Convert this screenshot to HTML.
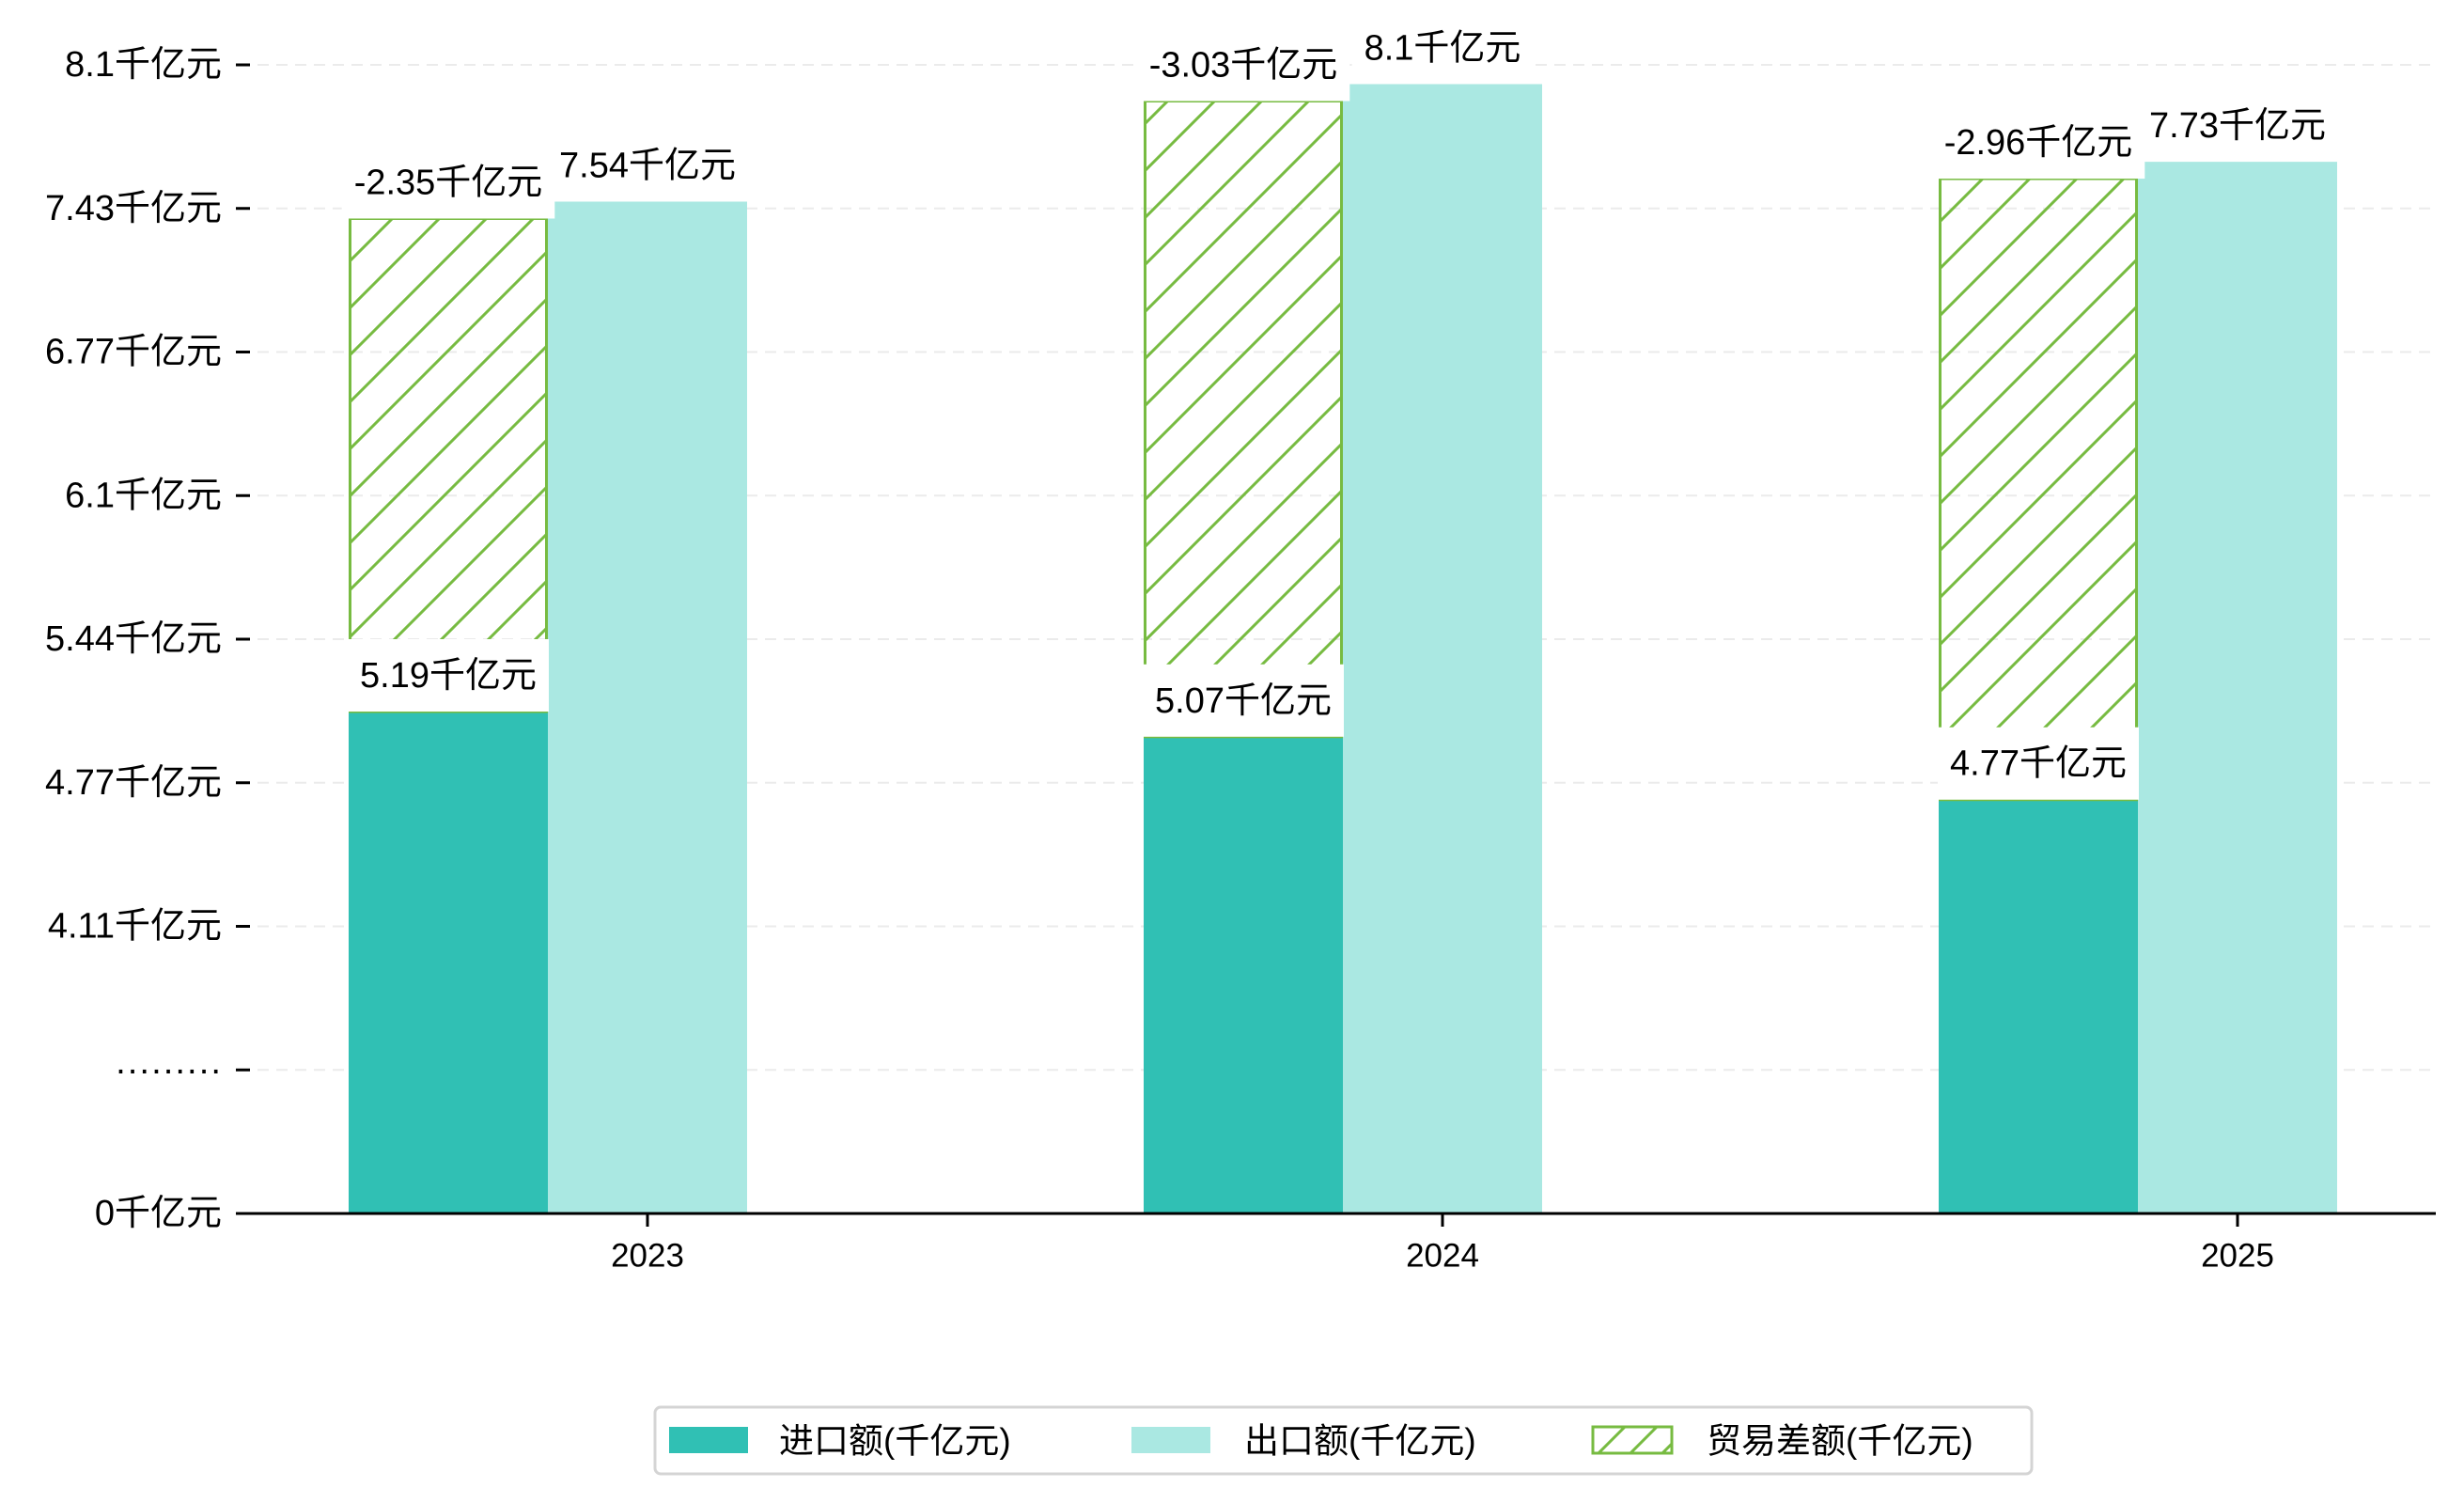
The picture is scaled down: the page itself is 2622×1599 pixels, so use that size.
<!DOCTYPE html>
<html><head><meta charset="utf-8"><style>
html,body{margin:0;padding:0;background:#fff;}
svg{display:block;}
text{font-family:"Liberation Sans","WenQuanYi Zen Hei","Noto Sans CJK SC",sans-serif;fill:#000;}
</style></head><body>
<svg id="chart" width="2622" height="1599" viewBox="0 0 2622 1599" xmlns="http://www.w3.org/2000/svg">
<defs>
<pattern id="hatch" patternUnits="userSpaceOnUse" width="50" height="50">
<path d="M0,50 L50,0 M-12.5,12.5 L12.5,-12.5 M37.5,62.5 L62.5,37.5" stroke="#77bb41" stroke-width="3"/>
</pattern>
<pattern id="hatchLegend" patternUnits="userSpaceOnUse" width="34" height="34" x="1695" y="1518">
<path d="M0,34 L34,0 M-8,8 L8,-8 M26,42 L42,26" stroke="#77bb41" stroke-width="3"/>
</pattern>
</defs>
<g id="grid"></g>
<g id="bars"></g>
<g id="labels"></g>
<g id="axes"></g>
<g id="legend"></g>
</svg>
<script>
const years = ["2023","2024","2025"];
const imports = [5.19, 5.07, 4.77];
const exports = [7.54, 8.1, 7.73];
const diffs = [-2.35, -3.03, -2.96];
const yTickLabels = ["0千亿元","·········","4.11千亿元","4.77千亿元","5.44千亿元","6.1千亿元","6.77千亿元","7.43千亿元","8.1千亿元"];

const NS = "http://www.w3.org/2000/svg";
const baseY = 1291, plotL = 254, plotR = 2592;
const barW = 212;
function xCenter(i){ return 689 + i*846; }
function yVal(v){ return 757 - (v - 5.19)*223.2; }
function yTick(i){ return baseY - i*152.75; }
function mk(tag, attrs, parent){ const e=document.createElementNS(NS,tag); for(const k in attrs) e.setAttribute(k,attrs[k]); parent.appendChild(e); return e; }

const grid=document.getElementById('grid'), bars=document.getElementById('bars'), labels=document.getElementById('labels'), axes=document.getElementById('axes'), legend=document.getElementById('legend');

yTickLabels.forEach((lab,i)=>{
  const y=yTick(i);
  if(i>0){
    const g=mk('line',{x1:plotL,x2:plotR,y1:y,y2:y,stroke:'#ebebeb','stroke-width':2,'stroke-dasharray':'12,8'},grid);
    
    
  }
  const t=mk('line',{x1:251,x2:266,y1:y,y2:y,stroke:'#000','stroke-width':3},axes);
  
  
  const tx=mk('text',{x:236,y:y,'text-anchor':'end','dominant-baseline':'central','font-size':38},axes);
  tx.textContent=lab;
  
  
});

function labelBox(cx, bottom, txt, name){
  const g=mk('g',{},labels);
  
  
  const r=mk('rect',{x:cx,y:bottom-77,width:10,height:77,fill:'#fff'},g);
  const t=mk('text',{x:cx,y:bottom-38,'text-anchor':'middle','dominant-baseline':'central','font-size':38},g);
  t.textContent=txt;
  let w=0; try{ w=t.getComputedTextLength(); }catch(e){}
  if(!w) w=txt.length*30;
  r.setAttribute('x',cx-w/2-13);
  r.setAttribute('width',w+26);
}

years.forEach((yr,i)=>{
  const c=xCenter(i);
  const iTop=yVal(imports[i]);
  const b1=mk('rect',{x:c-1.5*barW,y:iTop,width:barW,height:baseY-iTop,fill:'#30c0b4'},bars);
  
  
  const eTop=yVal(exports[i])-18;
  const b2=mk('rect',{x:c-0.5*barW,y:eTop,width:barW,height:baseY-eTop,fill:'#aae8e2'},bars);
  
  
  const dTop=yVal(imports[i]+Math.abs(diffs[i]));
  const b3=mk('rect',{x:c-1.5*barW+1.5,y:dTop,width:barW-3,height:iTop-dTop,fill:'url(#hatch)',stroke:'#77bb41','stroke-width':3},bars);
  
  
});
years.forEach((yr,i)=>{
  const c=xCenter(i);
  labelBox(c, yVal(exports[i])-18, exports[i]+'千亿元', 'export-label-'+yr);
});
years.forEach((yr,i)=>{
  const c=xCenter(i);
  labelBox(c-barW, yVal(imports[i]), imports[i]+'千亿元', 'import-label-'+yr);
  labelBox(c-barW, yVal(imports[i]+Math.abs(diffs[i])), diffs[i]+'千亿元', 'trade-balance-label-'+yr);
});

const ax=mk('line',{x1:plotL,x2:plotR,y1:baseY,y2:baseY,stroke:'#000','stroke-width':3},axes);


years.forEach((yr,i)=>{
  const c=xCenter(i);
  const t=mk('line',{x1:c,x2:c,y1:baseY,y2:baseY+14,stroke:'#000','stroke-width':3},axes);
  
  
  const tx=mk('text',{x:c,y:1336,'text-anchor':'middle','dominant-baseline':'central','font-size':35},axes);
  tx.textContent=yr;
  
  
});

const lb=mk('rect',{x:697,y:1497,width:1465,height:71,rx:6,fill:'#fff',stroke:'#d4d4d4','stroke-width':3},legend);


const legItems=[["进口额(千亿元)",712,829,'#30c0b4',null],["出口额(千亿元)",1204,1324,'#aae8e2',null],["贸易差额(千亿元)",1695,1816,'url(#hatchLegend)','#77bb41']];
legItems.forEach((it,k)=>{
  const g=mk('g',{},legend);
  
  
  const a={x:it[1],y:1518,width:84,height:28,fill:it[3]};
  if(it[4]){a.stroke=it[4];a['stroke-width']=3;}
  mk('rect',a,g);
  const t=mk('text',{x:it[2],y:1533,'dominant-baseline':'central','font-size':37},g);
  t.textContent=it[0];
});
</script>
</body></html>
